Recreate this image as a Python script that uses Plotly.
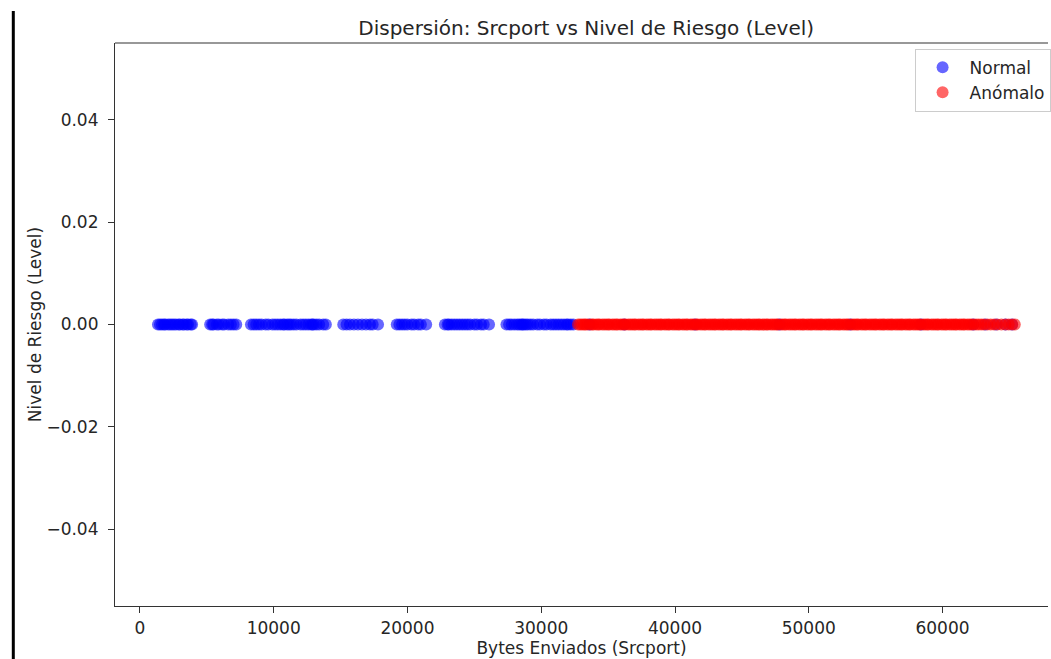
import plotly.graph_objects as go

# Source ports of flows labelled normal / anomalous; risk level is 0 for all
normal_srcport = [1350, 1500, 1650, 1800, 1900, 2100, 2250, 2400, 2550, 2700, 2900, 3000,
                  3200, 3300, 3500, 3600, 3800, 3900,
                  5250, 5400, 5500, 5750, 5900, 6150, 6300, 6600, 6800, 7000, 7200,
                  8300, 8500, 8700, 8900, 9100, 9400, 9600, 9900, 10100, 10300, 10500,
                  10700, 10800, 11000, 11150, 11300, 11500, 11700, 12000, 12200, 12400,
                  12600, 12800, 12900, 13000, 13200, 13400, 13700, 13900,
                  15200, 15450, 15700, 16000, 16300, 16600, 16900, 17200, 17400, 17800,
                  19200, 19400, 19600, 19800, 20000, 20300, 20500, 20800, 21000, 21400,
                  22800, 23000, 23100, 23300, 23500, 23700, 23900, 24100, 24300, 24500,
                  24700, 25000, 25200, 25500, 25700, 26100,
                  27400, 27600, 27800, 28000, 28200, 28350, 28500, 28600, 28700, 28850,
                  29000, 29200, 29400, 29700, 29900, 30200, 30400, 30700, 30900, 31100,
                  31300, 31500, 31700, 31900, 32000, 32200, 32400,
                  33600, 36200, 41500, 47800, 53100, 58400, 62300, 63200, 64000,
                  64700, 65200]
normal_level = [0.0] * len(normal_srcport)

anomalo_srcport = [32750, 32900, 33050, 33200, 33300, 33450, 33650, 33800, 33900, 34100,
                   34250, 34350, 34550, 34700, 34850, 35000, 35100, 35300, 35450, 35600,
                   35700, 35900, 36050, 36200, 36300, 36500, 36650, 36800, 36950, 37050,
                   37250, 37400, 37550, 37650, 37850, 38000, 38150, 38250, 38450, 38600,
                   38750, 38900, 39000, 39200, 39350, 39500, 39600, 39800, 39950, 40100,
                   40250, 40350, 40550, 40700, 40850, 40950, 41150, 41300, 41450, 41600,
                   41700, 41900, 42050, 42200, 42300, 42500, 42650, 42800, 42950, 43050,
                   43250, 43400, 43550, 43650, 43850, 44000, 44150, 44250, 44450, 44600,
                   44750, 44900, 45000, 45200, 45350, 45500, 45600, 45800, 45950, 46100,
                   46250, 46350, 46550, 46700, 46850, 46950, 47150, 47300, 47450, 47600,
                   47700, 47900, 48050, 48200, 48300, 48500, 48650, 48800, 48950, 49050,
                   49250, 49400, 49550, 49650, 49850, 50000, 50150, 50250, 50450, 50600,
                   50750, 50900, 51000, 51200, 51350, 51500, 51600, 51800, 51950, 52100,
                   52250, 52350, 52550, 52700, 52850, 52950, 53150, 53300, 53450, 53600,
                   53700, 53900, 54050, 54200, 54300, 54500, 54650, 54800, 54950, 55050,
                   55250, 55400, 55550, 55650, 55850, 56000, 56150, 56250, 56450, 56600,
                   56750, 56900, 57000, 57200, 57350, 57500, 57600, 57800, 57950, 58100,
                   58250, 58350, 58550, 58700, 58850, 58950, 59150, 59300, 59450, 59600,
                   59700, 59900, 60050, 60200, 60300, 60500, 60650, 60800, 60950, 61050,
                   61250, 61400, 61550, 61650, 61850, 62000, 62150, 62300, 62500, 62700,
                   62900, 63100, 63350, 63600, 63850, 64100, 64400, 64700, 64950, 65200,
                   65400]
anomalo_level = [0.0] * len(anomalo_srcport)

x_ticks = [0, 10000, 20000, 30000, 40000, 50000, 60000]
y_ticks = [-0.04, -0.02, 0.0, 0.02, 0.04]
y_tick_text = ["\u22120.04", "\u22120.02", "0.00", "0.02", "0.04"]

FONT = "DejaVu Sans"
TXT = "#262626"

fig = go.Figure()
fig.add_trace(go.Scatter(
    x=normal_srcport, y=normal_level, mode="markers", name="Normal",
    marker=dict(color="blue", size=12, opacity=0.6, line=dict(width=0)),
))
fig.add_trace(go.Scatter(
    x=anomalo_srcport, y=anomalo_level, mode="markers", name="Anómalo",
    marker=dict(color="red", size=12, opacity=0.6, line=dict(width=0)),
))

axis_common = dict(
    showgrid=False, zeroline=False, showline=True, linecolor="#333333", linewidth=1.2,
    ticks="outside", ticklen=6, tickwidth=1.2, tickcolor="#333333",
    tickfont=dict(family=FONT, size=17, color=TXT),
)

fig.update_layout(
    width=1051, height=659,
    margin=dict(l=115, r=0, t=43, b=53),
    paper_bgcolor="white", plot_bgcolor="white",
    font=dict(family=FONT, color=TXT),
    title=dict(text="Dispersión: Srcport vs Nivel de Riesgo (Level)",
               font=dict(family=FONT, size=20, color=TXT),
               x=0.505, xref="paper", xanchor="center",
               y=1 - 28 / 659, yref="container", yanchor="middle"),
    xaxis=dict(range=[-1863, 67884], tickvals=x_ticks, ticktext=[str(v) for v in x_ticks],
               ticklabelstandoff=0,
               title=dict(text="Bytes Enviados (Srcport)", font=dict(family=FONT, size=17, color=TXT),
                          standoff=5),
               **axis_common),
    yaxis=dict(range=[-0.055, 0.055], tickvals=y_ticks, ticktext=y_tick_text,
               ticklabelstandoff=6,
               title=dict(text="Nivel de Riesgo (Level)", font=dict(family=FONT, size=17, color=TXT),
                          standoff=0),
               **axis_common),
    legend=dict(x=0.857, y=0.99, xanchor="left", yanchor="top", itemwidth=44,
                bgcolor="rgba(255,255,255,0.8)", bordercolor="#cccccc", borderwidth=1,
                font=dict(family=FONT, size=17, color=TXT)),
    showlegend=True,
    shapes=[
        # top spine of the axes box
        dict(type="line", xref="paper", yref="paper", x0=0, x1=1, y0=1, y1=1,
             line=dict(color="#333333", width=1.2)),
        # page border on the left
        dict(type="line", xref="paper", yref="paper", x0=-0.109, x1=-0.109, y0=-0.1, y1=1.057,
             line=dict(color="black", width=3)),
    ],
)

fig.write_html("out.html")
